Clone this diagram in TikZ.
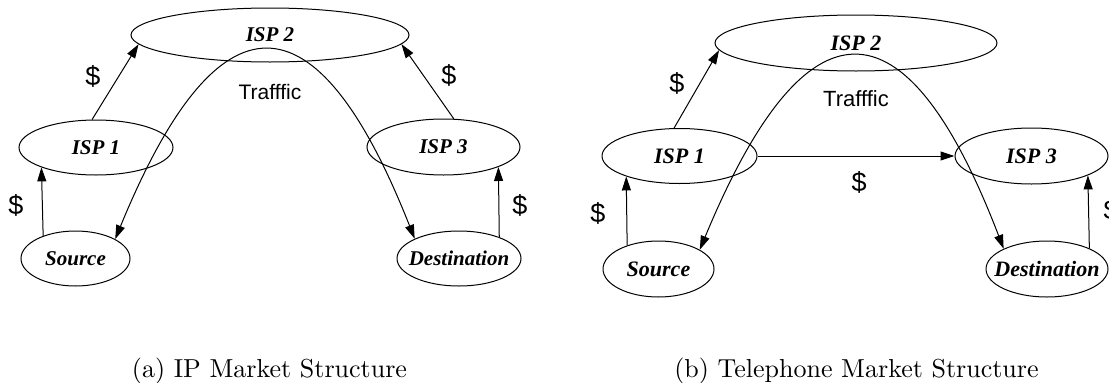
\documentclass[tikz,border=0pt]{standalone}
\usepackage{fontspec}
\usetikzlibrary{shapes.geometric,arrows.meta}
\newfontfamily\tnrfont{Liberation Serif}
\newfontfamily\arialfont{Liberation Sans}
\newfontfamily\capfont{lmroman10-regular}[Extension=.otf]
\newcommand{\zw}[1]{\makebox[0pt]{#1}}
\tikzset{
  ell/.style={ellipse, draw, line width=1pt, inner sep=0pt,
    font=\tnrfont\bfseries\itshape\fontsize{21}{24}\selectfont},
  ellb/.style={ell, font=\tnrfont\bfseries\itshape\fontsize{22}{25}\selectfont},
  arr/.style={-{Triangle[length=14pt,width=9pt]}, line width=1pt},
  traf/.style={{Triangle[length=14pt,width=9pt]}-{Triangle[length=14pt,width=9pt]}, line width=1pt},
  lab/.style={font=\arialfont\fontsize{21}{24}\selectfont, inner sep=0pt},
  labb/.style={font=\arialfont\fontsize{22}{25}\selectfont, inner sep=0pt},
  dol/.style={font=\arialfont\fontsize{27}{30}\selectfont, inner sep=0pt},
  captext/.style={font=\capfont\fontsize{26}{30}\selectfont, inner sep=0pt, anchor=base},
}
\begin{document}
\begin{tikzpicture}[x=1pt,y=-1pt]
\useasboundingbox (0,0) rectangle (1109,383);
% ---------------- (a) IP market ----------------
\node[ell, minimum width=278pt, minimum height=54pt] (lisp2) at (270,35) {\zw{ISP 2}};
\node[ell, minimum width=154pt, minimum height=55pt] (lisp1) at (96,147.5) {\zw{ISP 1}};
\node[ell, minimum width=153pt, minimum height=56pt] (lisp3) at (443.5,147) {\zw{ISP 3}};
\node[ell, minimum width=109pt, minimum height=55pt] (lsrc) at (75.5,258.5) {\zw{Source}};
\node[ell, minimum width=124pt, minimum height=55pt] (ldst) at (459,258.5) {\zw{Destination}};

\draw[arr] (lsrc.145.9) -- (lisp1.200.6);
\draw[arr] (lisp1.98.3) -- (lisp2.184);
\draw[arr] (lisp3.70.6) -- (lisp2.356);
\draw[arr] (ldst.28.8) -- (lisp3.340.2);
\draw[traf] (lsrc.26) .. controls (218,-11.3) and (316,-11.3) .. (ldst.156.4);

\node[dol] (ld1) at (16,205) {\$};
\node[dol] (ld2) at (93,76) {\$};
\node[dol] (ld3) at (449,75) {\$};
\node[dol] (ld4) at (520,205) {\$};
\node[lab] (ltraf) at (270,92) {Trafffic};
\node[captext] (lcap) at (269.5,377) {(a) IP Market Structure};

% ---------------- (b) Telephone market ----------------
\node[ellb, minimum width=282pt, minimum height=56pt] (risp2) at (856,43) {\zw{ISP 2}};
\node[ellb, minimum width=155pt, minimum height=55pt] (risp1) at (679.5,156) {\zw{ISP 1}};
\node[ellb, minimum width=153pt, minimum height=56pt] (risp3) at (1031.5,156) {\zw{ISP 3}};
\node[ellb, minimum width=111pt, minimum height=56pt] (rsrc) at (658.5,269) {\zw{Source}};
\node[ellb, minimum width=122pt, minimum height=56pt] (rdst) at (1047,269) {\zw{Destination}};

\draw[arr] (rsrc.143.9) -- (risp1.201);
\draw[arr] (risp1.101) -- (risp2.183.4);
\draw[arr] (risp1.east) -- (risp3.west);
\draw[arr] (rdst.26.8) -- (risp3.341.5);
\draw[traf] (rsrc.25.8) .. controls (806,-6.7) and (905.7,-6.7) .. (rdst.155.5);

\node[dol] (rd1) at (598,213) {\$};
\node[dol] (rd2) at (677,83) {\$};
\node[dol] (rd3) at (859,182) {\$};
\node[dol] (rd4) at (1111,210) {\$};
\node[labb] (rtraf) at (856,99) {Trafffic};
\node[captext] (rcap) at (856.5,377) {(b) Telephone Market Structure};
\end{tikzpicture}
\end{document}
